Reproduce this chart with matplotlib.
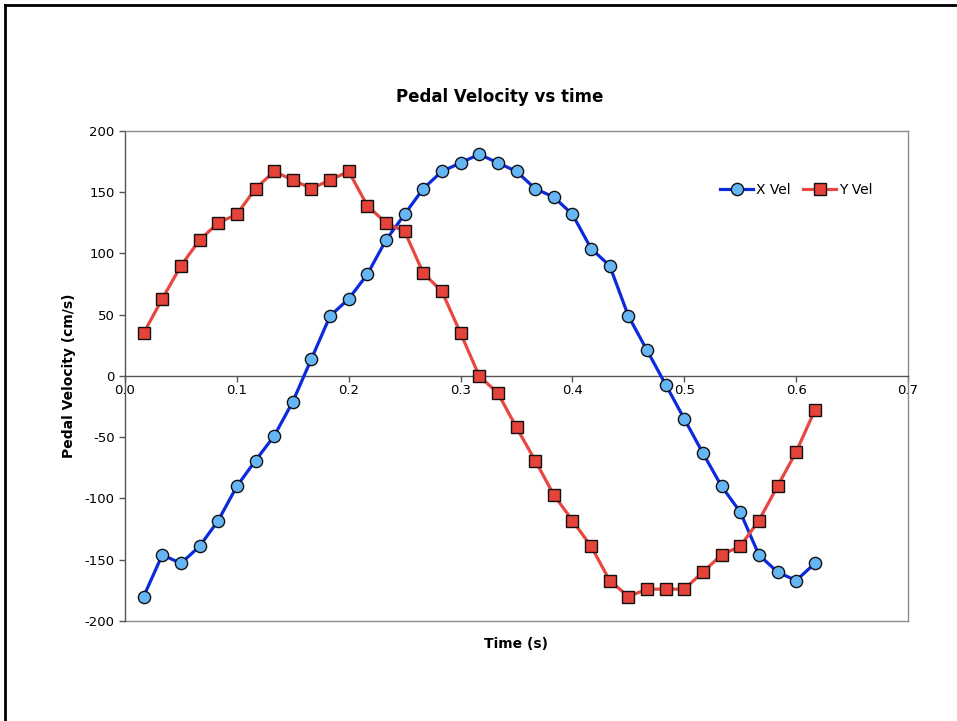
import numpy as np
import matplotlib
matplotlib.use("Agg")
import matplotlib.pyplot as plt
from matplotlib.lines import Line2D
from matplotlib.ticker import FormatStrFormatter

# time samples at 60 Hz
time = np.arange(1, 38) / 60.0

x_vel = [-180, -146, -153, -139, -118, -90, -69, -49, -21, 14,
         49, 63, 83, 111, 132, 153, 167, 174, 181, 174,
         167, 153, 146, 132, 104, 90, 49, 21, -7, -35,
         -63, -90, -111, -146, -160, -167, -153]

y_vel = [35, 63, 90, 111, 125, 132, 153, 167, 160, 153,
         160, 167, 139, 125, 118, 84, 69, 35, 0, -14,
         -42, -69, -97, -118, -139, -167, -180, -174, -174, -174,
         -160, -146, -139, -118, -90, -62, -28]

x_ticks = [0.0, 0.1, 0.2, 0.3, 0.4, 0.5, 0.6, 0.7]
y_ticks = [-200, -150, -100, -50, 0, 50, 100, 150, 200]

plt.rcParams['font.family'] = ['DejaVu Sans']
plt.rcParams['axes.unicode_minus'] = False

fig = plt.figure(figsize=(9.57, 7.21), dpi=100)
ax = fig.add_axes([125/957, 1 - 621/721, 783/957, 490/721])

ax.plot(time, x_vel, color="#0A2ADB", lw=2.3, marker="o", ms=8.8,
        mfc="#66B5F5", mec="#111111", mew=1.0, label="X Vel", zorder=3)
ax.plot(time, y_vel, color="#E8473F", lw=2.3, marker="s", ms=8.3,
        mfc="#E5423A", mec="#111111", mew=1.0, label="Y Vel", zorder=3)

ax.set_xlim(0, 0.7)
ax.set_ylim(-200, 200)
ax.set_xticks(x_ticks)
ax.set_yticks(y_ticks)
ax.xaxis.set_major_formatter(FormatStrFormatter("%.1f"))

for s in ["top", "right", "left"]:
    ax.spines[s].set_color("#8c8c8c")
    ax.spines[s].set_linewidth(1.0)
ax.spines["left"].set_color("#555555")
ax.spines["bottom"].set_position(("data", 0))
ax.spines["bottom"].set_color("#555555")
ax.spines["bottom"].set_linewidth(1.0)

# bottom frame line of plot area
ax.plot([0, 1], [0, 0], transform=ax.transAxes, color="#8c8c8c", lw=1.0, clip_on=False)

ax.tick_params(axis="both", direction="out", length=4, width=1, color="#555555",
               labelsize=9.5, labelcolor="black")
ax.tick_params(axis="x", pad=2)

ax.set_xlabel("Time (s)", fontsize=10, fontweight="bold")
ax.xaxis.set_label_coords(0.5, -0.033)
ax.set_ylabel("Pedal Velocity (cm/s)", fontsize=10, fontweight="bold")
ax.yaxis.set_label_coords(-0.062, 0.5)

fig.text(500/957, 1 - 97/721, "Pedal Velocity vs time", ha="center", va="center",
         fontsize=12, fontweight="bold")

leg = ax.legend(loc="upper right", bbox_to_anchor=(0.962, 0.905), ncol=2, frameon=False,
                fontsize=10, handlelength=2.4, columnspacing=0.9, handletextpad=0.2,
                borderaxespad=0)

# outer chart border (top and left visible)
fig.add_artist(Line2D([5/957, 1], [1 - 5/721, 1 - 5/721], color="black", lw=2))
fig.add_artist(Line2D([5/957, 5/957], [0, 1 - 5/721], color="black", lw=2))

fig.savefig("out.png", dpi=100)
